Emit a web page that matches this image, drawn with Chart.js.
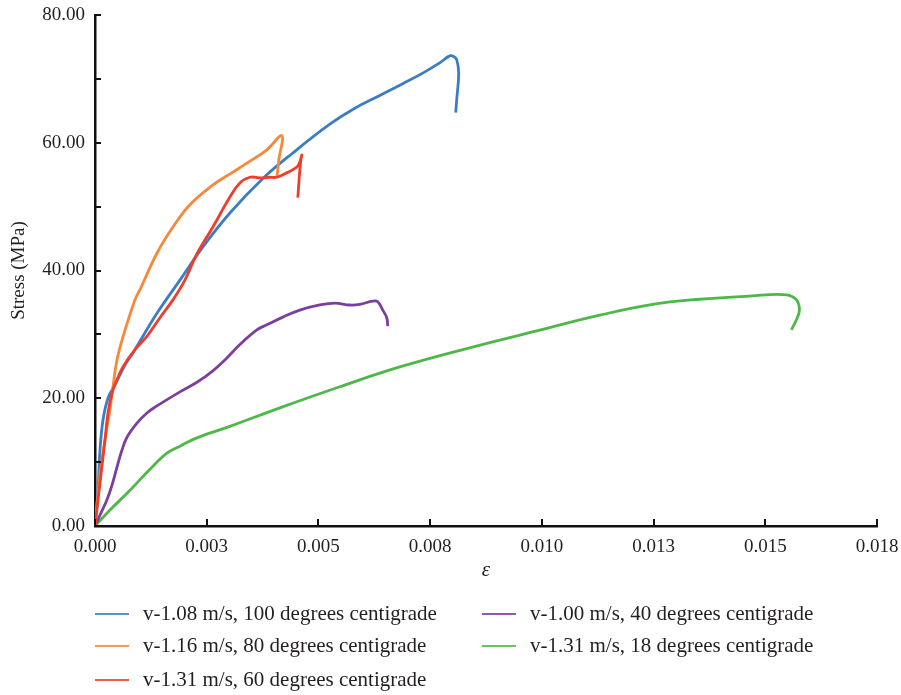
<!DOCTYPE html>
<html><head><meta charset="utf-8">
<script src="https://cdn.jsdelivr.net/npm/chart.js@4.4.0/dist/chart.umd.min.js"></script>
<style>
html,body{margin:0;padding:0;background:#fff;}
#wrap{position:relative;width:901px;height:695px;overflow:hidden;}
#c{position:absolute;left:0;top:0;}
.leg{position:absolute;font-family:"Liberation Serif","DejaVu Serif",serif;font-size:21px;color:#231f20;white-space:nowrap;height:22px;line-height:22px;}
.sw{position:absolute;top:11px;width:34px;height:0;border-top:2px solid;opacity:0.85;}
.tx{position:absolute;left:48px;top:0;}
</style>
</head><body>
<div id="wrap"><canvas id="c" width="901" height="695"></canvas></div>
<script>
// ---- data (strain ε, stress MPa) ----
const seriesNames = [
  'v-1.08 m/s, 100 degrees centigrade',
  'v-1.16 m/s, 80 degrees centigrade',
  'v-1.31 m/s, 60 degrees centigrade',
  'v-1.00 m/s, 40 degrees centigrade',
  'v-1.31 m/s, 18 degrees centigrade'
];
const seriesColors = ['#3b7dc4', '#f7883a', '#ee3d2a', '#7b3f9e', '#4db848'];

const strain100 = [0, 0.000067, 0.000112, 0.000179, 0.000291, 0.000447, 0.000671, 0.000850, 0.001386, 0.001901, 0.002415, 0.003019, 0.003757, 0.004427, 0.005255, 0.005814, 0.006373, 0.006820, 0.007334, 0.007714, 0.007938, 0.008027, 0.008094, 0.008139, 0.008094, 0.008072];
const stress100 = [0, 5.6, 11.9, 16.6, 20.0, 22.1, 25.2, 27.1, 33.3, 38.5, 43.7, 49.0, 54.4, 58.4, 62.9, 65.4, 67.4, 69.0, 70.9, 72.5, 73.6, 73.5, 73.0, 70.9, 66.7, 64.7];

const strain80 = [0, 0.000112, 0.000224, 0.000335, 0.000402, 0.000492, 0.000626, 0.000894, 0.001006, 0.001386, 0.001744, 0.002124, 0.002638, 0.003086, 0.003399, 0.003846, 0.004181, 0.004114, 0.004070];
const stress80 = [0, 8.0, 13.5, 18.2, 21.8, 26.0, 29.6, 35.4, 37.0, 42.7, 46.8, 50.3, 53.4, 55.4, 56.8, 58.9, 61.1, 57.3, 54.5];

const strain60 = [0, 0.000112, 0.000224, 0.000291, 0.000380, 0.000492, 0.000626, 0.000894, 0.001163, 0.001453, 0.001744, 0.002012, 0.002281, 0.002638, 0.003019, 0.003242, 0.003466, 0.003689, 0.003913, 0.004070, 0.004293, 0.004517, 0.004584, 0.004629, 0.004606, 0.004584, 0.004562, 0.004539];
const stress60 = [0, 6.7, 13.5, 17.7, 20.8, 22.9, 24.9, 27.6, 29.7, 32.6, 35.4, 38.5, 42.6, 46.8, 51.5, 53.7, 54.6, 54.5, 54.6, 54.6, 55.3, 56.2, 57.0, 58.1, 57.3, 55.7, 53.7, 51.4];

const strain40 = [0, 0.000112, 0.000268, 0.000380, 0.000492, 0.000604, 0.000716, 0.000939, 0.001163, 0.001386, 0.001901, 0.002281, 0.002638, 0.002907, 0.003242, 0.003622, 0.003846, 0.004204, 0.004584, 0.005031, 0.005366, 0.005702, 0.005925, 0.006216, 0.006328, 0.006440, 0.006529, 0.006552];
const stress40 = [0, 1.7, 4.1, 6.4, 9.2, 11.9, 13.9, 16.1, 17.7, 18.8, 21.0, 22.5, 24.3, 26.0, 28.4, 30.7, 31.5, 32.7, 33.8, 34.6, 34.9, 34.6, 34.7, 35.2, 35.1, 33.8, 32.6, 31.3];

const strain18 = [0, 0.000335, 0.000783, 0.001230, 0.001610, 0.001901, 0.002281, 0.003019, 0.004137, 0.005478, 0.006820, 0.008385, 0.009973, 0.011292, 0.012477, 0.013528, 0.014646, 0.015473, 0.015697, 0.015764, 0.015697, 0.015585];
const stress18 = [0, 2.5, 5.6, 8.9, 11.4, 12.5, 13.8, 15.6, 18.5, 21.8, 24.9, 27.9, 30.7, 33.0, 34.7, 35.5, 36.0, 36.2, 35.4, 33.8, 32.3, 30.7];

const xTickLabels = ['0.000', '0.003', '0.005', '0.008', '0.010', '0.013', '0.015', '0.018'];
const yTickLabels = ['0.00', '', '20.00', '', '40.00', '', '60.00', '', '80.00'];

// ---- build ----
const strains = [strain100, strain80, strain60, strain40, strain18];
const stresses = [stress100, stress80, stress60, stress40, stress18];
const datasets = seriesNames.map((name, k) => ({
  label: name,
  data: strains[k].map((x, i) => ({x: x, y: stresses[k][i]})),
  borderColor: seriesColors[k],
  backgroundColor: seriesColors[k],
  borderWidth: 2.8,
  pointRadius: 0,
  showLine: true,
  tension: 0.4,
  fill: false
}));
const drawOrder = [4, 3, 0, 1, 2];
datasets.forEach((d, k) => { d.order = 5 - drawOrder.indexOf(k); });

const SERIF = '"Liberation Serif","DejaVu Serif",serif';
const innerTicks = {
  id: 'innerTicks',
  afterDraw(chart) {
    const {ctx, chartArea: a, scales: {x, y}} = chart;
    ctx.save();
    ctx.strokeStyle = '#111';
    ctx.lineWidth = 2;
    x.ticks.forEach(t => {
      const px = Math.round(x.getPixelForValue(t.value));
      ctx.beginPath(); ctx.moveTo(px, a.bottom); ctx.lineTo(px, a.bottom - 7); ctx.stroke();
    });
    y.ticks.forEach(t => {
      const py = Math.round(y.getPixelForValue(t.value));
      ctx.beginPath(); ctx.moveTo(a.left, py); ctx.lineTo(a.left + 6, py); ctx.stroke();
    });
    ctx.restore();
  }
};

new Chart(document.getElementById('c'), {
  type: 'scatter',
  data: {datasets: datasets},
  plugins: [innerTicks],
  options: {
    responsive: false,
    animation: false,
    devicePixelRatio: 1,
    layout: {padding: {left: 0, top: 15, right: 24, bottom: 109}},
    plugins: {legend: {display: false}, tooltip: {enabled: false}},
    scales: {
      x: {
        type: 'linear', min: 0, max: 0.0175,
        afterFit: s => { s.height = 60; s.paddingLeft = 0; s.paddingRight = 0; },
        grid: {display: false, drawTicks: false},
        border: {display: true, color: '#111', width: 2.5},
        ticks: {stepSize: 0.0025, padding: 10, color: '#231f20', font: {family: SERIF, size: 19},
          callback: (v, i) => xTickLabels[i], maxRotation: 0, autoSkip: false},
        title: {display: true, text: 'ε', color: '#231f20', font: {family: SERIF, size: 21, style: 'italic'}, padding: {top: 3, bottom: 3}}
      },
      y: {
        type: 'linear', min: 0, max: 80,
        afterFit: s => { s.width = 95; s.paddingTop = 0; s.paddingBottom = 0; },
        grid: {display: false, drawTicks: false},
        border: {display: true, color: '#111', width: 2.5},
        ticks: {stepSize: 10, padding: 10, color: '#231f20', font: {family: SERIF, size: 19},
          callback: (v, i) => yTickLabels[i], autoSkip: false},
        title: {display: true, text: 'Stress (MPa)', color: '#231f20', font: {family: SERIF, size: 19}, padding: {top: 8, bottom: 0}}
      }
    }
  }
});

// ---- HTML legend (two columns) ----
const wrap = document.getElementById('wrap');
const colLeft = [95, 482];
const rowTop = [602, 634, 668];
seriesNames.forEach((name, k) => {
  const col = k < 3 ? 0 : 1;
  const row = k < 3 ? k : k - 3;
  const item = document.createElement('div');
  item.className = 'leg';
  item.style.left = colLeft[col] + 'px';
  item.style.top = rowTop[row] + 'px';
  const sw = document.createElement('span');
  sw.className = 'sw';
  sw.style.borderTopColor = seriesColors[k];
  const tx = document.createElement('span');
  tx.className = 'tx';
  tx.textContent = name;
  item.appendChild(sw); item.appendChild(tx);
  wrap.appendChild(item);
});
</script>
</body></html>
